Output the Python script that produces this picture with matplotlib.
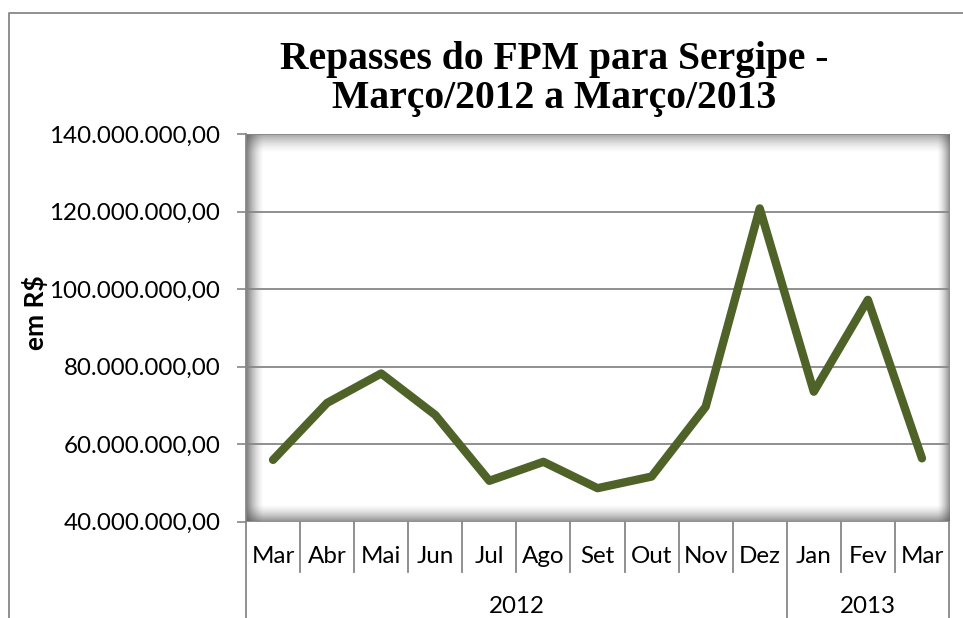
import numpy as np
import matplotlib
matplotlib.use('Agg')
import matplotlib.pyplot as plt
from matplotlib.lines import Line2D
from matplotlib.ticker import FuncFormatter

# valores (R$)
meses = ['Mar', 'Abr', 'Mai', 'Jun', 'Jul', 'Ago', 'Set', 'Out', 'Nov', 'Dez',
         'Jan', 'Fev', 'Mar']
anos = ['2012', '2013']
meses_por_ano = [10, 3]
repasses = [55.9e6, 70.6e6, 78.2e6, 67.5e6, 50.5e6, 55.4e6, 48.6e6, 51.6e6,
            69.6e6, 120.8e6, 73.5e6, 97.2e6, 56.3e6]
yticks = [40e6, 60e6, 80e6, 100e6, 120e6, 140e6]

W, H = 963, 618
FONT = ['Lato', 'DejaVu Sans']
GRAY = '#878787'
FS = 17.4
plt.rcParams['font.family'] = FONT


def px(x, y):
    """pixel coords (top-left origin) -> figure fraction"""
    return x / W, 1 - y / H


def brl(v, pos=None):
    s = '{:,.2f}'.format(v)
    return s.replace(',', '#').replace('.', ',').replace('#', '.')


fig = plt.figure(figsize=(W / 100, H / 100), dpi=100)

# moldura do grafico
x0, y0 = px(9, 13)
fig.add_artist(Line2D([x0, x0, 1.0], [0.0, y0, y0], color=GRAY, lw=1.3,
                      transform=fig.transFigure))

left, top = px(246, 134)
right, bottom = px(949, 521.5)
ax = fig.add_axes([left, bottom, right - left, top - bottom])

x = np.arange(len(meses))
ax.plot(x, repasses, color='#4F6228', lw=6, solid_capstyle='round',
        solid_joinstyle='round', zorder=3, clip_on=False)

ax.set_xlim(-0.5, len(meses) - 0.5)
ax.set_ylim(40e6, 140e6)
ax.set_yticks(yticks)
ax.yaxis.set_major_formatter(FuncFormatter(brl))
ax.tick_params(axis='y', length=6.5, width=1.2, color=GRAY, pad=12,
               labelsize=FS)
ax.set_xticks([])
ax.grid(axis='y', color=GRAY, lw=1.3, zorder=1)
ax.set_axisbelow(True)
for s in ['top', 'right', 'bottom']:
    ax.spines[s].set_visible(False)
ax.spines['left'].set_color(GRAY)
ax.spines['left'].set_linewidth(1.3)

# sombra interna da area de plotagem
nx, ny = 703, 388
xx = np.arange(nx)[None, :] + 0.5
yy = np.arange(ny)[:, None] + 0.5
alpha = np.zeros((ny, nx))
for d, w, a in [(xx, 18, 0.75), (nx - xx, 13, 0.65), (yy, 20, 0.55),
                (ny - yy, 17, 0.6)]:
    e = np.clip(1 - d / w, 0, 1) ** 1.5 * a
    alpha = 1 - (1 - alpha) * (1 - e)
img = np.zeros((ny, nx, 4))
img[..., :3] = 0.3
img[..., 3] = alpha
ax.imshow(img, extent=(0, 1, 0, 1), transform=ax.transAxes, aspect='auto',
          zorder=0.5, interpolation='bilinear')

# eixo de categorias em dois niveis
ah = 387.5
sep_short = -50 / ah
sep_long = -100 / ah
trans = ax.get_xaxis_transform()
bounds = [-0.5]
for n in meses_por_ano:
    bounds.append(bounds[-1] + n)
for k in range(len(meses) + 1):
    xb = k - 0.5
    y_end = sep_long if xb in bounds else sep_short
    ax.plot([xb, xb], [0, y_end], color=GRAY, lw=1.3, transform=trans,
            clip_on=False)
for i, m in enumerate(meses):
    ax.text(i, -35 / ah, m, transform=trans, ha='center', va='center',
            fontsize=FS)
for i, a in enumerate(anos):
    ax.text((bounds[i] + bounds[i + 1]) / 2, -85 / ah, a, transform=trans,
            ha='center', va='center', fontsize=FS)

# titulo e rotulo do eixo
tx, ty = px(554, 79)
fig.text(tx, ty, 'Repasses do FPM para Sergipe -\nMarço/2012 a Março/2013',
         ha='center', va='center', fontsize=28.5, fontweight='bold',
         family='Liberation Serif', linespacing=1.1)
lx, ly = px(35, 313)
fig.text(lx, ly, 'em R$', rotation=90, ha='center', va='center',
         fontsize=19, fontweight='bold')

fig.savefig('out.png', dpi=100)
